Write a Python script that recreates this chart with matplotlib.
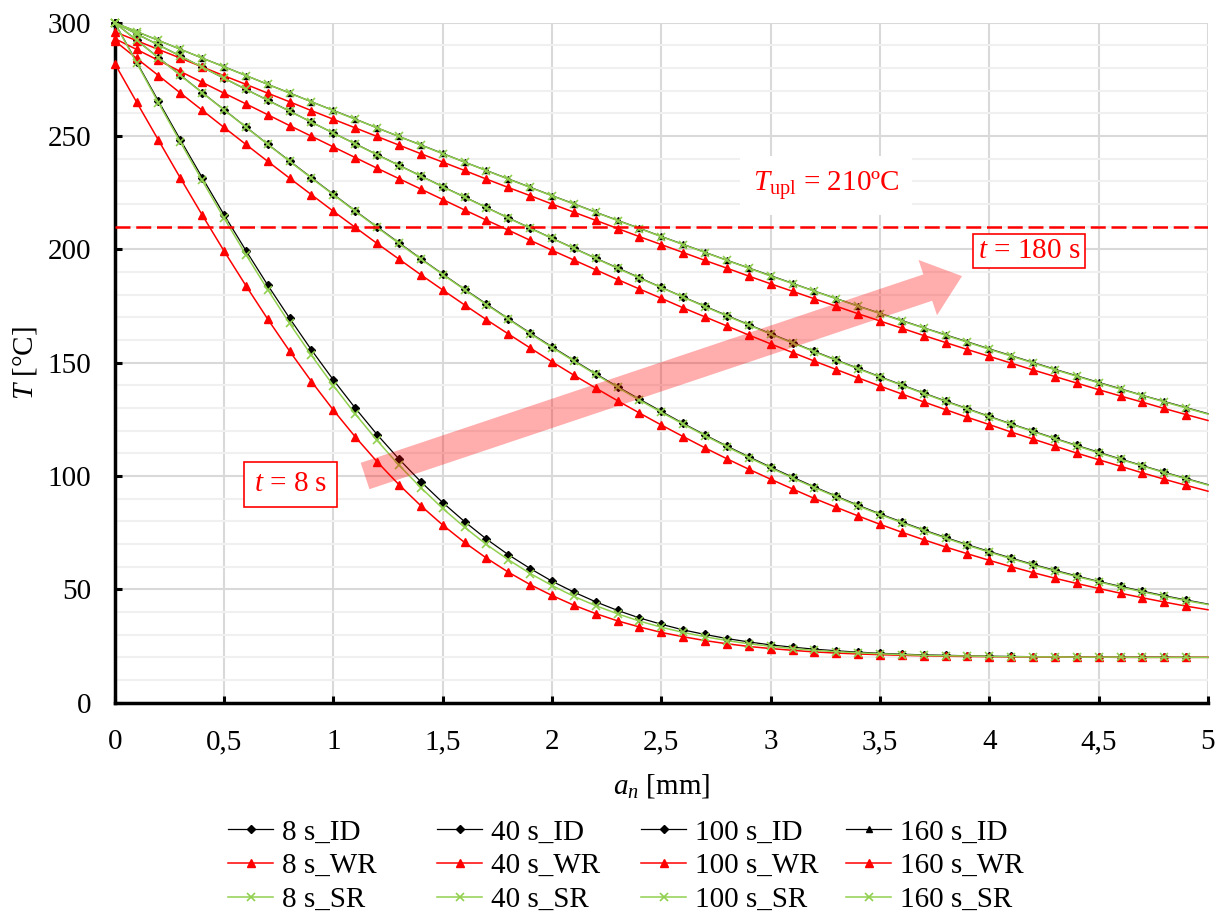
import matplotlib
matplotlib.use("Agg")
import matplotlib.pyplot as plt
from matplotlib.ticker import FixedLocator, MultipleLocator, FuncFormatter

# ---- data: temperature T [°C] along depth a_n [mm] ----
a_n = [0.0, 0.1, 0.2, 0.3, 0.4, 0.5, 0.6, 0.7, 0.8, 0.9,
       1.0, 1.1, 1.2, 1.3, 1.4, 1.5, 1.6, 1.7, 1.8, 1.9,
       2.0, 2.1, 2.2, 2.3, 2.4, 2.5, 2.6, 2.7, 2.8, 2.9,
       3.0, 3.1, 3.2, 3.3, 3.4, 3.5, 3.6, 3.7, 3.8, 3.9,
       4.0, 4.1, 4.2, 4.3, 4.4, 4.5, 4.6, 4.7, 4.8, 4.9, 5.0]

id_8s = [300.0, 282.7, 265.4, 248.4, 231.7, 215.3, 199.5, 184.2, 169.6, 155.6,
         142.4, 130.0, 118.3, 107.5, 97.5, 88.3, 79.9, 72.2, 65.3, 59.2,
         53.6, 48.8, 44.5, 40.7, 37.4, 34.6, 32.1, 30.1, 28.3, 26.8,
         25.5, 24.5, 23.6, 22.9, 22.3, 21.8, 21.4, 21.1, 20.9, 20.7,
         20.5, 20.4, 20.3, 20.2, 20.2, 20.1, 20.1, 20.1, 20.1, 20.0, 20.0]
wr_8s = [282.0, 265.0, 248.2, 231.5, 215.2, 199.3, 184.0, 169.2, 155.1, 141.7,
         129.1, 117.3, 106.3, 96.2, 86.9, 78.4, 70.7, 63.8, 57.6, 52.1,
         47.3, 43.0, 39.3, 36.1, 33.4, 31.0, 29.1, 27.4, 26.0, 24.8,
         23.9, 23.1, 22.4, 21.9, 21.5, 21.2, 20.9, 20.7, 20.5, 20.4,
         20.3, 20.2, 20.2, 20.1, 20.1, 20.1, 20.0, 20.0, 20.0, 20.0, 20.0]
sr_8s = [300.0, 282.3, 264.7, 247.4, 230.4, 213.8, 197.7, 182.2, 167.3, 153.2,
         139.9, 127.4, 115.7, 104.8, 94.9, 85.7, 77.4, 69.8, 63.1, 57.0,
         51.7, 46.9, 42.8, 39.2, 36.0, 33.3, 31.0, 29.1, 27.4, 26.0,
         24.9, 23.9, 23.1, 22.5, 22.0, 21.6, 21.2, 20.9, 20.7, 20.6,
         20.4, 20.3, 20.2, 20.2, 20.1, 20.1, 20.1, 20.0, 20.0, 20.0, 20.0]

id_40s = [300.0, 292.3, 284.6, 276.9, 269.2, 261.6, 254.0, 246.4, 239.0, 231.6,
          224.3, 217.0, 209.9, 202.9, 195.9, 189.1, 182.4, 175.9, 169.4, 163.1,
          157.0, 151.0, 145.1, 139.4, 133.9, 128.5, 123.2, 118.1, 113.2, 108.5,
          103.9, 99.5, 95.2, 91.1, 87.1, 83.3, 79.7, 76.2, 72.9, 69.7,
          66.7, 63.8, 61.0, 58.4, 55.9, 53.5, 51.3, 49.2, 47.2, 45.3, 43.5]
wr_40s = [292.0, 284.3, 276.7, 269.0, 261.4, 253.8, 246.3, 238.8, 231.4, 224.1,
          216.8, 209.7, 202.6, 195.7, 188.8, 182.1, 175.5, 169.0, 162.7, 156.5,
          150.4, 144.5, 138.8, 133.2, 127.8, 122.5, 117.4, 112.4, 107.6, 103.0,
          98.6, 94.3, 90.1, 86.2, 82.4, 78.7, 75.2, 71.9, 68.7, 65.7,
          62.8, 60.0, 57.4, 54.9, 52.6, 50.4, 48.3, 46.3, 44.4, 42.6, 41.0]
sr_40s = [300.0, 292.3, 284.5, 276.8, 269.1, 261.5, 253.9, 246.3, 238.8, 231.4,
          224.1, 216.8, 209.7, 202.6, 195.7, 188.9, 182.2, 175.6, 169.2, 162.8,
          156.7, 150.7, 144.8, 139.1, 133.5, 128.1, 122.9, 117.8, 112.9, 108.1,
          103.6, 99.1, 94.9, 90.8, 86.8, 83.0, 79.4, 75.9, 72.6, 69.4,
          66.4, 63.5, 60.7, 58.1, 55.6, 53.3, 51.0, 48.9, 46.9, 45.0, 43.3]

id_100s = [300.0, 295.1, 290.2, 285.3, 280.4, 275.5, 270.6, 265.8, 261.0, 256.1,
           251.3, 246.6, 241.8, 237.1, 232.4, 227.7, 223.1, 218.5, 213.9, 209.4,
           204.9, 200.5, 196.1, 191.8, 187.5, 183.2, 179.0, 174.9, 170.8, 166.8,
           162.8, 158.9, 155.0, 151.2, 147.5, 143.8, 140.2, 136.6, 133.1, 129.7,
           126.3, 123.0, 119.8, 116.6, 113.5, 110.5, 107.5, 104.6, 101.7, 98.9, 96.2]
wr_100s = [293.0, 288.2, 283.4, 278.5, 273.7, 268.9, 264.2, 259.4, 254.6, 249.9,
           245.2, 240.5, 235.8, 231.2, 226.6, 222.0, 217.4, 212.9, 208.5, 204.0,
           199.6, 195.3, 191.0, 186.7, 182.5, 178.4, 174.2, 170.2, 166.2, 162.2,
           158.3, 154.5, 150.7, 147.0, 143.3, 139.7, 136.2, 132.7, 129.3, 125.9,
           122.7, 119.4, 116.3, 113.2, 110.1, 107.2, 104.3, 101.4, 98.6, 95.9, 93.3]
sr_100s = [300.0, 295.1, 290.2, 285.3, 280.4, 275.5, 270.6, 265.7, 260.9, 256.1,
           251.3, 246.5, 241.7, 237.0, 232.3, 227.6, 223.0, 218.4, 213.8, 209.3,
           204.8, 200.4, 196.0, 191.6, 187.3, 183.1, 178.9, 174.7, 170.6, 166.6,
           162.6, 158.7, 154.8, 151.0, 147.3, 143.6, 140.0, 136.4, 132.9, 129.5,
           126.1, 122.8, 119.6, 116.4, 113.3, 110.2, 107.3, 104.4, 101.5, 98.7, 96.0]

id_160s = [300.0, 296.1, 292.2, 288.3, 284.4, 280.6, 276.7, 272.8, 269.0, 265.1,
           261.3, 257.5, 253.6, 249.8, 246.1, 242.3, 238.5, 234.8, 231.1, 227.4,
           223.7, 220.1, 216.4, 212.8, 209.3, 205.7, 202.2, 198.7, 195.2, 191.8,
           188.4, 185.0, 181.6, 178.3, 175.0, 171.8, 168.6, 165.4, 162.3, 159.2,
           156.1, 153.1, 150.1, 147.1, 144.2, 141.3, 138.5, 135.6, 132.9, 130.2, 127.5]
wr_160s = [296.0, 292.1, 288.2, 284.4, 280.5, 276.6, 272.8, 268.9, 265.1, 261.2,
           257.4, 253.6, 249.8, 246.0, 242.2, 238.5, 234.8, 231.0, 227.3, 223.7,
           220.0, 216.4, 212.8, 209.2, 205.6, 202.1, 198.6, 195.1, 191.7, 188.2,
           184.8, 181.5, 178.2, 174.9, 171.6, 168.4, 165.2, 162.0, 158.9, 155.8,
           152.8, 149.8, 146.8, 143.9, 141.0, 138.1, 135.3, 132.6, 129.8, 127.1, 124.5]
sr_160s = [300.0, 296.1, 292.2, 288.3, 284.4, 280.5, 276.7, 272.8, 268.9, 265.1,
           261.2, 257.4, 253.6, 249.8, 246.0, 242.2, 238.5, 234.7, 231.0, 227.3,
           223.6, 220.0, 216.3, 212.7, 209.2, 205.6, 202.1, 198.6, 195.1, 191.7,
           188.2, 184.9, 181.5, 178.2, 174.9, 171.7, 168.4, 165.3, 162.1, 159.0,
           155.9, 152.9, 149.9, 146.9, 144.0, 141.1, 138.3, 135.5, 132.7, 130.0, 127.3]

times = ["8 s", "40 s", "100 s", "160 s"]
id_series = [id_8s, id_40s, id_100s, id_160s]
wr_series = [wr_8s, wr_40s, wr_100s, wr_160s]
sr_series = [sr_8s, sr_40s, sr_100s, sr_160s]

t_upl = 210
x_ticks = [0, 0.5, 1, 1.5, 2, 2.5, 3, 3.5, 4, 4.5, 5]
y_ticks = [0, 50, 100, 150, 200, 250, 300]

# ---- style ----
plt.rcParams["font.family"] = ["Liberation Serif", "DejaVu Serif"]
plt.rcParams["mathtext.fontset"] = "custom"
plt.rcParams["mathtext.rm"] = "Liberation Serif"
plt.rcParams["mathtext.it"] = "Liberation Serif:italic"
plt.rcParams["mathtext.bf"] = "Liberation Serif:bold"

FS = 21
FS_NOTE = 21
RED = "#FF0000"
GREEN = "#92D050"

fig = plt.figure(figsize=(12.19, 9.19), dpi=100)
ax = fig.add_axes([114.7 / 1219, 1 - 702.7 / 919, 1093.3 / 1219, 680 / 919])

marks = slice(0, 50)
handles = []
for k, t in enumerate(times):
    id_marker = "^" if k == 3 else "D"
    id_ms = 5.0 if k == 3 else 4.0
    (l_id,) = ax.plot(a_n, id_series[k], color="black", lw=0.9, marker=id_marker,
                      ms=id_ms, mec="black", mfc="black", markevery=marks,
                      clip_on=False, zorder=3, label=f"{t}_ID")
    (l_wr,) = ax.plot(a_n, wr_series[k], color=RED, lw=1.1, marker="^", ms=6.0,
                      mec=RED, mfc=RED, markevery=marks, clip_on=False,
                      zorder=3.1, label=f"{t}_WR")
    (l_sr,) = ax.plot(a_n, sr_series[k], color=GREEN, lw=1.1, marker="x", ms=5.5,
                      mew=1.2, mec=GREEN, markevery=marks, clip_on=False,
                      zorder=3.2, label=f"{t}_SR")
    handles.append((l_id, l_wr, l_sr))

# upper permissible temperature
ax.axhline(t_upl, color=RED, lw=1.8, linestyle=(0, (6, 2.3)), zorder=4)
ax.text(3.253, 225.9, r"$T_{\mathrm{upl}}$ = 210ºC", color=RED, fontsize=FS_NOTE,
        ha="center", va="baseline", zorder=6,
        bbox=dict(boxstyle="square,pad=0.45", facecolor="white", edgecolor="none"))

# time direction arrow
ax.annotate("", xy=(3.875, 188.2), xytext=(1.145, 100.0),
            arrowprops=dict(arrowstyle="simple,head_length=26,head_width=42,tail_width=20",
                            mutation_scale=1, color=RED, alpha=0.32, lw=0,
                            shrinkA=0, shrinkB=0),
            zorder=5)
ax.text(0.804, 96.4, r"$t$ = 8 s", color=RED, fontsize=FS_NOTE, ha="center",
        va="center", zorder=6,
        bbox=dict(boxstyle="square,pad=0.33", facecolor="white", edgecolor=RED, lw=1.2))
ax.text(4.181, 199.3, r"$t$ = 180 s", color=RED, fontsize=FS_NOTE, ha="center",
        va="center", zorder=6,
        bbox=dict(boxstyle="square,pad=0.15", facecolor="white", edgecolor=RED, lw=1.2))

# axes
ax.set_xlim(0, 5)
ax.set_ylim(0, 300)
ax.xaxis.set_major_locator(FixedLocator(x_ticks))
ax.yaxis.set_major_locator(FixedLocator(y_ticks))
ax.yaxis.set_minor_locator(MultipleLocator(10))
ax.xaxis.set_major_formatter(FuncFormatter(lambda v, p: f"{v:g}".replace(".", ",")))
ax.yaxis.set_major_formatter(FuncFormatter(lambda v, p: f"{v:g}"))

ax.set_axisbelow(True)
ax.grid(which="major", axis="both", color="#D9D9D9", lw=1.5)
ax.grid(which="minor", axis="y", color="#F0F0F0", lw=1.5)

for side in ("top", "right"):
    ax.spines[side].set_visible(False)
for side in ("left", "bottom"):
    ax.spines[side].set_linewidth(2.5)
    ax.spines[side].set_color("black")
    ax.spines[side].set_zorder(2.5)

ax.tick_params(axis="both", which="major", direction="in", length=5, width=2.2,
               labelsize=FS, color="black")
ax.tick_params(axis="y", which="major", pad=17)
ax.tick_params(axis="x", which="major", pad=19)
ax.tick_params(which="minor", length=0)

ax.set_ylabel(r"$T$ [°C]", fontsize=FS)
ax.yaxis.set_label_coords(-0.069, 0.5)
ax.set_xlabel(r"$a_n$ [mm]", fontsize=FS)
ax.xaxis.set_label_coords(0.5, -0.102)

# legend: one column per time instant
col_x = [228, 437, 641, 846]
for k, (l_id, l_wr, l_sr) in enumerate(handles):
    fig.legend(handles=[l_id, l_wr, l_sr],
               labels=[l_id.get_label(), l_wr.get_label(), l_sr.get_label()],
               loc="upper left", bbox_to_anchor=(col_x[k] / 1219, 1 - 819 / 919),
               frameon=False, borderpad=0, borderaxespad=0, fontsize=FS,
               handlelength=1.55, handletextpad=0.3, labelspacing=0.25,
               numpoints=1)

fig.savefig("out.png", dpi=100)
